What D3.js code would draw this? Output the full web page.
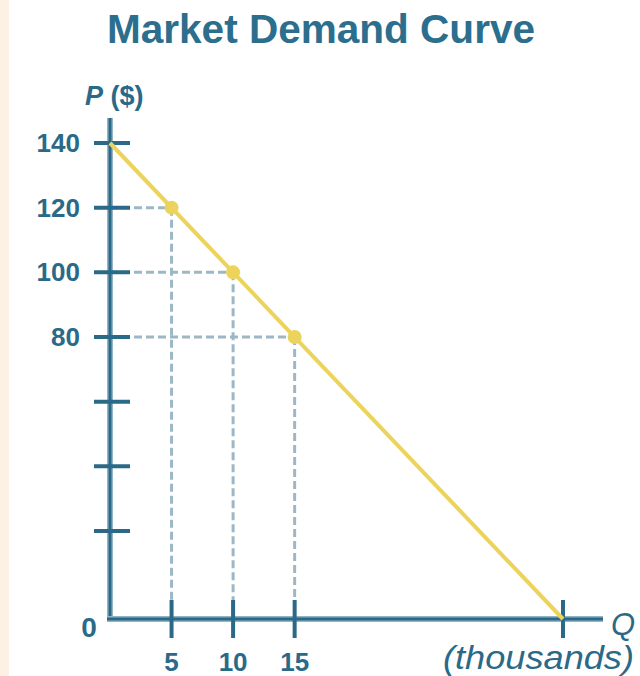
<!DOCTYPE html>
<html>
<head>
<meta charset="utf-8">
<script src="https://cdn.jsdelivr.net/npm/d3@7"></script>
<style>
  body { margin: 0; background: #fff; }
  svg { display: block; font-family: "Liberation Sans", Arial, sans-serif; }
</style>
</head>
<body>
<svg id="chart" width="640" height="676"></svg>
<script>
let svg = d3.select("#chart");

// data
const priceTicks = [140, 120, 100, 80, 60, 40, 20];
const priceLabels = ["140", "120", "100", "80", "", "", ""];
const qtyTicks = [5, 10, 15, 36.8];
const qtyLabels = ["5", "10", "15", ""];
const marketQ = [5, 10, 15];
const marketP = [120, 100, 80];
// demand line end points (Q, P)
const demandQ = [0, 36.8];
const demandP = [140, -7.2];

const axisColor = "#2a6a88";
const haloColor = "#93b4c6";
const curveColor = "#ecd35c";
const dashColor = "#9db7c7";

// scales
let x = d3.scaleLinear().domain([0, 36.8]).range([110, 563]);
let y = d3.scaleLinear().domain([-7.2, 140]).range([619, 143]);

// peach strip on the left
svg.append("rect").attr("x", 0).attr("y", 0).attr("width", 9).attr("height", 676).attr("fill", "#fdf0e4");

// title
svg.append("text")
  .attr("x", 321).attr("y", 43)
  .attr("text-anchor", "middle")
  .attr("font-size", 40).attr("font-weight", "bold")
  .attr("fill", "#2b6e8d")
  .attr("textLength", 428).attr("lengthAdjust", "spacingAndGlyphs")
  .text("Market Demand Curve");

// P ($) label
let pLabel = svg.append("text")
  .attr("x", 85).attr("y", 105)
  .attr("font-size", 27).attr("font-weight", "bold")
  .attr("fill", axisColor);
pLabel.append("tspan").attr("font-style", "italic").text("P");
pLabel.append("tspan").text(" ($)");

// dashed guides
let g = svg.append("g");
marketQ.forEach(function (q, i) {
  g.append("line")
    .attr("x1", x(0)).attr("x2", x(q))
    .attr("y1", y(marketP[i])).attr("y2", y(marketP[i]))
    .attr("stroke", dashColor).attr("stroke-width", 3)
    .attr("stroke-dasharray", "8,4");
  g.append("line")
    .attr("x1", x(q)).attr("x2", x(q))
    .attr("y1", y(marketP[i])).attr("y2", y(-7.2))
    .attr("stroke", dashColor).attr("stroke-width", 3)
    .attr("stroke-dasharray", "8,4");
});

// axes lines (halo + dark core)
function axisLine(x1, y1, x2, y2) {
  g.append("line").attr("x1", x1).attr("y1", y1).attr("x2", x2).attr("y2", y2)
    .attr("stroke", haloColor).attr("stroke-width", 6);
  g.append("line").attr("x1", x1).attr("y1", y1).attr("x2", x2).attr("y2", y2)
    .attr("stroke", axisColor).attr("stroke-width", 3);
}
axisLine(x(0), 118, x(0), y(-7.2) + 3);
axisLine(x(0) - 3, y(-7.2), 603, y(-7.2));

// y ticks and labels
priceTicks.forEach(function (p, i) {
  g.append("line")
    .attr("x1", x(0) - 16).attr("x2", x(0) + 20)
    .attr("y1", y(p)).attr("y2", y(p))
    .attr("stroke", axisColor).attr("stroke-width", 4);
  g.append("text")
    .attr("x", 80).attr("y", y(p) + 9)
    .attr("text-anchor", "end")
    .attr("font-size", 26).attr("font-weight", "bold")
    .attr("fill", axisColor)
    .text(priceLabels[i]);
});

// x ticks and labels
qtyTicks.forEach(function (q, i) {
  g.append("line")
    .attr("x1", x(q)).attr("x2", x(q))
    .attr("y1", y(-7.2) - 19).attr("y2", y(-7.2) + 19)
    .attr("stroke", axisColor).attr("stroke-width", 4);
  g.append("text")
    .attr("x", x(q)).attr("y", 671)
    .attr("text-anchor", "middle")
    .attr("font-size", 26).attr("font-weight", "bold")
    .attr("fill", axisColor)
    .text(qtyLabels[i]);
});

// origin label
svg.append("text")
  .attr("x", 89).attr("y", 637)
  .attr("text-anchor", "middle")
  .attr("font-size", 28).attr("font-weight", "bold")
  .attr("fill", axisColor)
  .text("0");

// Q label and units
svg.append("text")
  .attr("x", 611).attr("y", 635)
  .attr("font-size", 31).attr("font-style", "italic")
  .attr("fill", axisColor)
  .text("Q");
svg.append("text")
  .attr("x", 634).attr("y", 669)
  .attr("text-anchor", "end")
  .attr("font-size", 33).attr("font-style", "italic")
  .attr("fill", axisColor)
  .attr("textLength", 191).attr("lengthAdjust", "spacingAndGlyphs")
  .text("(thousands)");

// demand curve
let demand = demandQ.map((q, i) => [q, demandP[i]]);
g.append("path")
  .attr("d", d3.line().x(d => x(d[0])).y(d => y(d[1]))(demand))
  .attr("fill", "none")
  .attr("stroke", curveColor).attr("stroke-width", 4);

// market points
marketQ.forEach(function (q, i) {
  g.append("circle")
    .attr("cx", x(q)).attr("cy", y(marketP[i]))
    .attr("r", 7)
    .attr("fill", curveColor);
});
</script>
</body>
</html>
